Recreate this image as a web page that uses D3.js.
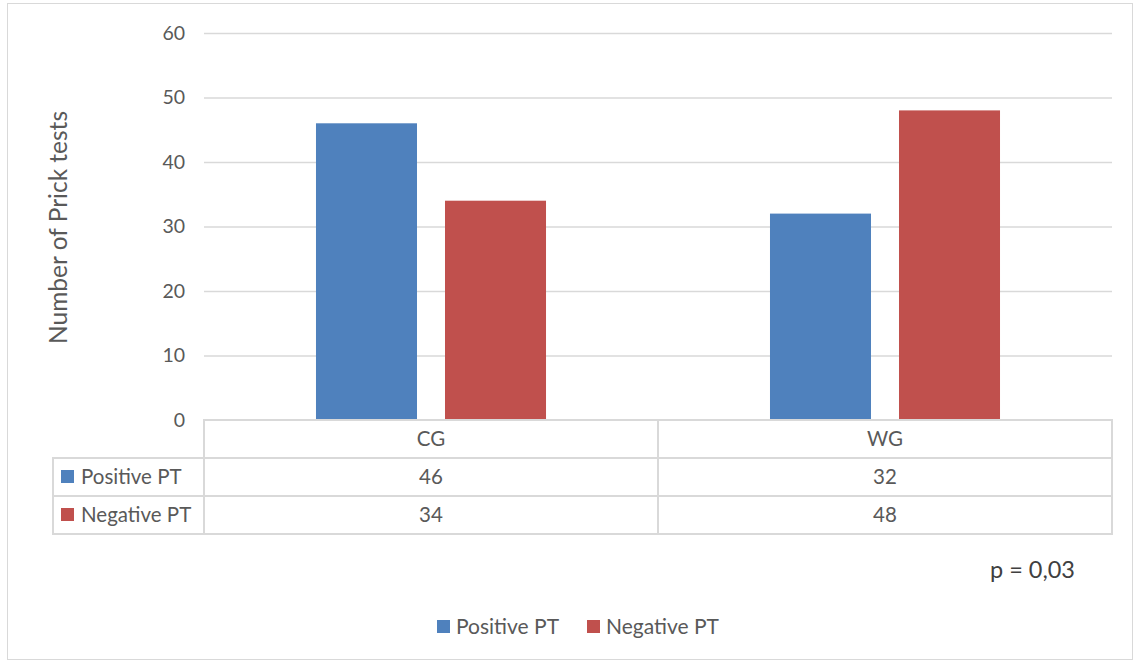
<!DOCTYPE html>
<html>
<head>
<meta charset="utf-8">
<script src="https://cdn.jsdelivr.net/npm/d3@7"></script>
<style>
  html, body { margin: 0; padding: 0; background: #fff; }
  svg { display: block; font-family: Lato, "Open Sans", sans-serif; }
</style>
</head>
<body>
<svg id="chart" width="1134" height="663"></svg>
<script>
// Prick test results per group
const groups = ["CG", "WG"];
const seriesNames = ["Positive PT", "Negative PT"];
const positivePT = [46, 32];
const negativePT = [34, 48];
const yTicks = [0, 10, 20, 30, 40, 50, 60];
const pValueLabel = "p = 0,03";

const colors = ["#4F81BD", "#C0504D"];
const textColor = "#595959";
const lineColor = "#D9D9D9";

const svg = d3.select("#chart");

// outer frame
svg.append("rect")
  .attr("x", 7.5).attr("y", 3.5).attr("width", 1125).attr("height", 656)
  .attr("fill", "#fff").attr("stroke", lineColor).attr("stroke-width", 1);

const plotLeft = 204, plotRight = 1112, plotTop = 33, plotBottom = 420;

const x = d3.scaleBand().domain(groups).range([plotLeft, plotRight]);
const y = d3.scaleLinear().domain([0, 60]).range([plotBottom, plotTop]);
const inner = d3.scaleBand().domain(seriesNames)
  .range([0, x.bandwidth()]).paddingInner(0.217).paddingOuter(0.868);

// gridlines and tick labels
const yAxis = d3.axisLeft(y).tickValues(yTicks).tickSize(-(plotRight - plotLeft)).tickPadding(19);
const gy = svg.append("g").attr("transform", `translate(${plotLeft},0)`).call(yAxis);
gy.select(".domain").remove();
gy.selectAll(".tick line").attr("stroke", lineColor).attr("stroke-width", 1.3)
  .filter(d => d === 0).remove();
gy.selectAll(".tick text").attr("fill", textColor).attr("font-size", 19.5).attr("font-family", "Lato");

// bars
const data = groups.map((g, i) => ({ group: g, values: [positivePT[i], negativePT[i]] }));
const gGroups = svg.append("g").selectAll("g").data(data).join("g")
  .attr("transform", d => `translate(${x(d.group)},0)`);
gGroups.selectAll("rect").data(d => d.values.map((v, j) => ({ key: seriesNames[j], value: v, j })))
  .join("rect")
  .attr("x", d => inner(d.key))
  .attr("width", inner.bandwidth())
  .attr("y", d => y(d.value))
  .attr("height", d => y(0) - y(d.value))
  .attr("fill", d => colors[d.j]);

// y axis title
svg.append("text")
  .attr("transform", `translate(67,${(plotTop + plotBottom) / 2 + 1}) rotate(-90)`)
  .attr("text-anchor", "middle")
  .attr("fill", textColor).attr("font-size", 24.5)
  .text("Number of Prick tests");

// data table below the axis
const tableLeft = 53, rowH = 38;
const rowsY = [plotBottom, plotBottom + rowH, plotBottom + 2 * rowH, plotBottom + 3 * rowH];
const tbl = svg.append("g").attr("stroke", lineColor).attr("stroke-width", 2).attr("fill", "none");
// header row (category names)
tbl.append("rect").attr("x", plotLeft).attr("y", rowsY[0]).attr("width", plotRight - plotLeft).attr("height", rowH);
// series rows
seriesNames.forEach((s, i) => {
  tbl.append("rect").attr("x", tableLeft).attr("y", rowsY[i + 1]).attr("width", plotRight - tableLeft).attr("height", rowH);
});
// vertical separators
[plotLeft, x("WG")].forEach(xv => {
  tbl.append("line").attr("x1", xv).attr("x2", xv).attr("y1", rowsY[0]).attr("y2", rowsY[3]);
});

const txt = svg.append("g").attr("fill", textColor).attr("font-size", 20.5);
groups.forEach(g => {
  txt.append("text").attr("x", x(g) + x.bandwidth() / 2).attr("y", rowsY[0] + rowH / 2 + 7)
    .attr("text-anchor", "middle").text(g);
});
const seriesValues = [positivePT, negativePT];
seriesNames.forEach((s, i) => {
  const cy = rowsY[i + 1] + rowH / 2;
  svg.append("rect").attr("x", 61).attr("y", cy - 7).attr("width", 13).attr("height", 13).attr("fill", colors[i]);
  txt.append("text").attr("x", 81).attr("y", cy + 7).text(s);
  groups.forEach((g, k) => {
    txt.append("text").attr("x", x(g) + x.bandwidth() / 2).attr("y", cy + 7)
      .attr("text-anchor", "middle").text(seriesValues[i][k]);
  });
});

// p value annotation
svg.append("text").attr("x", 1075).attr("y", 578).attr("text-anchor", "end")
  .attr("fill", "#404040").attr("font-size", 23.5).text(pValueLabel);

// legend
const legend = svg.append("g").attr("transform", "translate(437,627)");
const legendX = [0, 150];
seriesNames.forEach((s, i) => {
  const lg = legend.append("g").attr("transform", `translate(${legendX[i]},0)`);
  lg.append("rect").attr("x", 0).attr("y", -7).attr("width", 13).attr("height", 13).attr("fill", colors[i]);
  lg.append("text").attr("x", 19).attr("y", 7).attr("fill", textColor).attr("font-size", 21).text(s);
});
</script>
</body>
</html>
